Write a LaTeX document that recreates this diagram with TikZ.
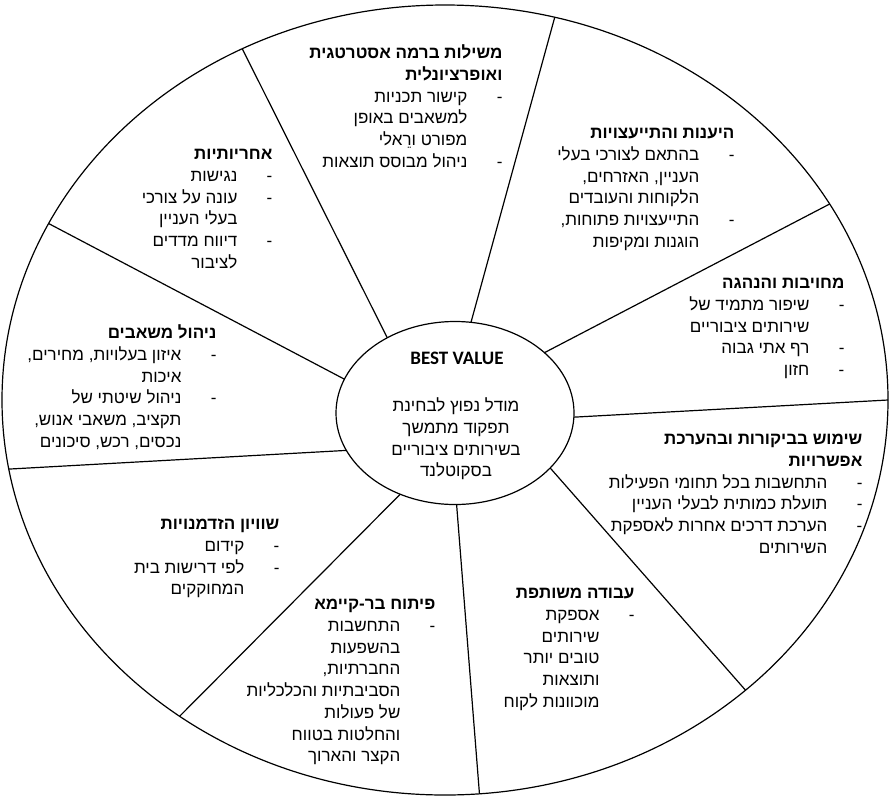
\documentclass[tikz,border=0pt]{standalone}
\usepackage{fontspec}
\setmainfont{Liberation Sans}
\newfontfamily\hebfont[Script=Hebrew]{Liberation Sans}
\newfontfamily\latfont{Carlito}
\usetikzlibrary{shapes.geometric}
\TeXXeTstate=1
\newlength{\dgap}\setlength{\dgap}{35pt}
\newcommand{\hd}[1]{\strut\textbf{\beginR #1\endR}}
\newcommand{\dl}[1]{\strut\beginR #1\endR\makebox[\dgap][r]{-}}
\newcommand{\cl}[1]{\strut\beginR #1\endR\makebox[\dgap]{}}
\newcommand{\hl}[1]{\strut\beginR #1\endR}

\begin{document}
\begin{tikzpicture}[x=1pt,y=-1pt,line width=1.2pt,
  ring/.style={draw,ellipse,inner sep=0pt,outer sep=0pt},
  blk/.style={anchor=north east,align=right,inner sep=0pt,
    font=\hebfont\fontsize{17}{21.7}\selectfont}]
\useasboundingbox (0,0) rectangle (890,798);
\node[ring,minimum width=886pt,minimum height=790pt] (rim) at (445,400) {};
\node[ring,minimum width=238pt,minimum height=183pt] (core) at (455,413) {};
\node[inner sep=0pt,font=\latfont\bfseries\fontsize{19}{23}\selectfont] (corehead) at (457,358) {BEST VALUE};
\node[blk,anchor=north,align=center] (coretext) at (456,396)
  {\hl{מודל נפוץ לבחינת}\\ \hl{תפקוד מתמשך}\\ \hl{בשירותים ציבוריים}\\ \hl{בסקוטלנד}};
\foreach \a/\b in {132/120,80/74,34/27,-2/0,-30/-44,-89/-85,-124/-130,-161/-171,163/156}
  \draw (core.\a) -- (rim.\b);
\node[blk] (gov) at (503,43)
  {\hd{משילות ברמה אסטרטגית}\\ \hd{ואופרציונלית}\\ \dl{קישור תכניות}\\ \cl{למשאבים באופן}\\ \cl{מפורט ורֵאלי}\\ \dl{ניהול מבוסס תוצאות}};
\node[blk] (resp) at (735,123)
  {\hd{היענות והתייעצויות}\\ \dl{בהתאם לצורכי בעלי}\\ \cl{העניין, האזרחים,}\\ \cl{הלקוחות והעובדים}\\ \dl{התייעצויות פתוחות,}\\ \cl{הוגנות ומקיפות}};
\node[blk] (lead) at (845,273)
  {\hd{מחויבות והנהגה}\\ \dl{שיפור מתמיד של}\\ \cl{שירותים ציבוריים}\\ \dl{רף אתי גבוה}\\ \dl{חזון}};
\node[blk] (audit) at (863,429)
  {\hd{שימוש בביקורות ובהערכת}\\ \hd{אפשרויות}\\ \dl{התחשבות בכל תחומי הפעילות}\\ \dl{תועלת כמותית לבעלי העניין}\\ \dl{הערכת דרכים אחרות לאספקת}\\ \cl{השירותים}};
\node[blk] (joint) at (635,583)
  {\hd{עבודה משותפת}\\ \dl{אספקת}\\ \cl{שירותים}\\ \cl{טובים יותר}\\ \cl{ותוצאות}\\ \cl{מוכוונות לקוח}};
\node[blk] (sust) at (436,594)
  {\hd{פיתוח בר-קיימא}\\ \dl{התחשבות}\\ \cl{בהשפעות}\\ \cl{החברתיות,}\\ \cl{הסביבתיות והכלכליות}\\ \cl{של פעולות}\\ \cl{והחלטות בטווח}\\ \cl{הקצר והארוך}};
\node[blk] (equal) at (280,514)
  {\hd{שוויון הזדמנויות}\\ \dl{קידום}\\ \dl{לפי דרישות בית}\\ \cl{המחוקקים}};
\node[blk] (res) at (217,323)
  {\hd{ניהול משאבים}\\ \dl{איזון בעלויות, מחירים,}\\ \cl{איכות}\\ \dl{ניהול שיטתי של}\\ \cl{תקציב, משאבי אנוש,}\\ \cl{נכסים, רכש, סיכונים}};
\node[blk] (acct) at (273,144)
  {\hd{אחריותיות}\\ \dl{נגישות}\\ \dl{עונה על צורכי}\\ \cl{בעלי העניין}\\ \dl{דיווח מדדים}\\ \cl{לציבור}};
\end{tikzpicture}
\end{document}
